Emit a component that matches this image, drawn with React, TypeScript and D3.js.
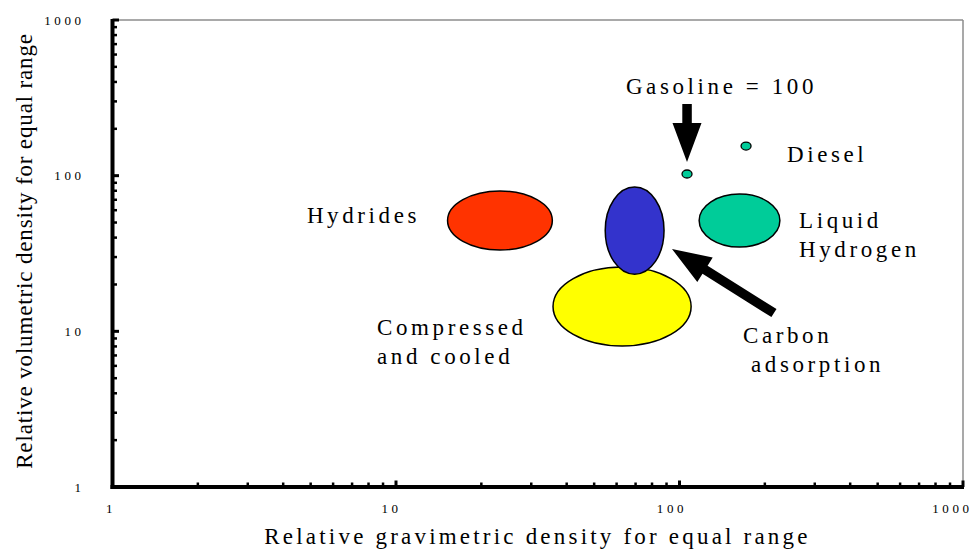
import React from "react";
import * as d3 from "d3";

// ---- data ----
const xTicks = [1, 10, 100, 1000];
const yTicks = [1, 10, 100, 1000];

const regionNames = ["Compressed and cooled", "Carbon adsorption", "Hydrides", "Liquid Hydrogen"];
const regionXLow = [35.8, 54.7, 15.2, 117.3];
const regionXHigh = [109.9, 88.2, 35.6, 226];
const regionYLow = [8.05, 23.3, 33.3, 34.8];
const regionYHigh = [25.9, 84.6, 79.7, 76.2];
const regionColors = ["#FFFF00", "#3333CC", "#FF3300", "#00CC99"];

const fuelNames = ["Gasoline", "Diesel"];
const fuelX = [106.3, 171.7];
const fuelY = [102.5, 155];

const labelLines = [["Gasoline = 100"], ["Diesel"], ["Liquid", "Hydrogen"], ["Hydrides"], ["Compressed", "and cooled"], ["Carbon", "adsorption"]];
const labelX = [64.7, 239.4, 264, 4.85, 8.57, 167.5];
const labelY = [334.7, 122.4, 46.1, 49.6, 9.47, 8.41];
const labelIndent = [0, 0, 0, 0, 0, 8];

const arrowTailX = [106.3, 215.4];
const arrowTailY = [288.6, 13.1];
const arrowTipX = [106.3, 94.1];
const arrowTipY = [122.4, 33.8];

const xTitle = "Relative gravimetric density for equal range";
const yTitle = "Relative volumetric density for equal range";

const FONT = "Liberation Serif, serif";

function arrowPath(x0: number, y0: number, x1: number, y1: number, shaft: number, headW: number, headL: number) {
  const dx = x1 - x0, dy = y1 - y0;
  const L = Math.hypot(dx, dy);
  const ux = dx / L, uy = dy / L;
  const px = -uy, py = ux;
  const bx = x1 - ux * headL, by = y1 - uy * headL;
  const pts = [
    [x0 + px * shaft / 2, y0 + py * shaft / 2],
    [bx + px * shaft / 2, by + py * shaft / 2],
    [bx + px * headW / 2, by + py * headW / 2],
    [x1, y1],
    [bx - px * headW / 2, by - py * headW / 2],
    [bx - px * shaft / 2, by - py * shaft / 2],
    [x0 - px * shaft / 2, y0 - py * shaft / 2],
  ];
  return "M" + pts.map((p) => p[0].toFixed(1) + "," + p[1].toFixed(1)).join("L") + "Z";
}

export default function App() {
  const W = 975, H = 550;
  const left = 112.5, right = 963, top = 20, bottom = 487;
  const x = d3.scaleLog().domain([1, 1000]).range([left, right]);
  const y = d3.scaleLog().domain([1, 1000]).range([bottom, top]);

  const minor: number[] = [];
  [1, 10, 100].forEach((d) => {
    for (let k = 2; k <= 9; k++) minor.push(d * k);
  });

  const tickLS = 3.6;
  const labLS = 3.6;

  return (
    <svg width={W} height={H} style={{ position: "absolute", left: 0, top: 0, background: "#fff", fontFamily: FONT }}>
      <rect x={0} y={0} width={W} height={H} fill="#fff" />
      {/* frame */}
      <line x1={left} x2={right} y1={top} y2={top} stroke="#8c8c8c" strokeWidth={1.5} />
      <line x1={right} x2={right} y1={top} y2={bottom} stroke="#8c8c8c" strokeWidth={1.5} />

      {/* regions */}
      {regionNames.map((n, i) => {
        const x0 = x(regionXLow[i]), x1 = x(regionXHigh[i]);
        const y0 = y(regionYHigh[i]), y1 = y(regionYLow[i]);
        return (
          <ellipse key={n} cx={(x0 + x1) / 2} cy={(y0 + y1) / 2} rx={(x1 - x0) / 2} ry={(y1 - y0) / 2}
            fill={regionColors[i]} stroke="#000" strokeWidth={1.5} />
        );
      })}

      {/* fuels */}
      {fuelNames.map((n, i) => (
        <ellipse key={n} cx={x(fuelX[i])} cy={y(fuelY[i])} rx={5} ry={4} fill="#00CC99" stroke="#000" strokeWidth={1.3} />
      ))}

      {/* arrows */}
      {arrowTailX.map((_, i) => (
        <path key={i} d={arrowPath(x(arrowTailX[i]), y(arrowTailY[i]), x(arrowTipX[i]), y(arrowTipY[i]), 9.5, 29, 39)} fill="#000" />
      ))}

      {/* labels */}
      {labelLines.map((lines, i) => (
        <text key={i} fontSize={23} letterSpacing={labLS} fill="#000" fontFamily={FONT}>
          {lines.map((t, j) => (
            <tspan key={j} x={x(labelX[i]) + (j > 0 ? labelIndent[i] : 0)} y={y(labelY[i]) + j * 29}>{t}</tspan>
          ))}
        </text>
      ))}

      {/* axes */}
      {minor.map((v) => (
        <g key={"m" + v}>
          <line x1={x(v)} x2={x(v)} y1={bottom} y2={bottom - 4.5} stroke="#000" strokeWidth={2.5} />
          <line x1={left} x2={left + 4.5} y1={y(v)} y2={y(v)} stroke="#000" strokeWidth={2.5} />
        </g>
      ))}
      {xTicks.map((v) => (
        <g key={"M" + v}>
          <line x1={x(v)} x2={x(v)} y1={bottom} y2={bottom - 6.5} stroke="#000" strokeWidth={3} />
          <line x1={left} x2={left + 6.5} y1={y(v)} y2={y(v)} stroke="#000" strokeWidth={3} />
        </g>
      ))}
      <line x1={left} x2={left} y1={top - 1} y2={bottom + 2} stroke="#000" strokeWidth={4} />
      <line x1={left - 2} x2={right + 1} y1={bottom} y2={bottom} stroke="#000" strokeWidth={4} />

      {xTicks.map((v) => {
        const s = String(v);
        return (
          <text key={"xt" + v} x={x(v) + 2 * (s.length - 1) + tickLS} y={513} textAnchor="end" fontSize={13} letterSpacing={tickLS} fontFamily={FONT}>{s}</text>
        );
      })}
      {yTicks.map((v) => (
        <text key={"yt" + v} x={81 + tickLS} y={y(v) + 4.5} textAnchor="end" fontSize={13} letterSpacing={tickLS} fontFamily={FONT}>{String(v)}</text>
      ))}

      <text x={(265 + 810) / 2} y={544} textAnchor="middle" fontSize={23} letterSpacing={3.2} fontFamily={FONT}>{xTitle}</text>
      <text transform={`translate(32, ${(22 + 480) / 2}) rotate(-90)`} textAnchor="middle" fontSize={23} letterSpacing={0.85} fontFamily={FONT}>{yTitle}</text>
    </svg>
  );
}
